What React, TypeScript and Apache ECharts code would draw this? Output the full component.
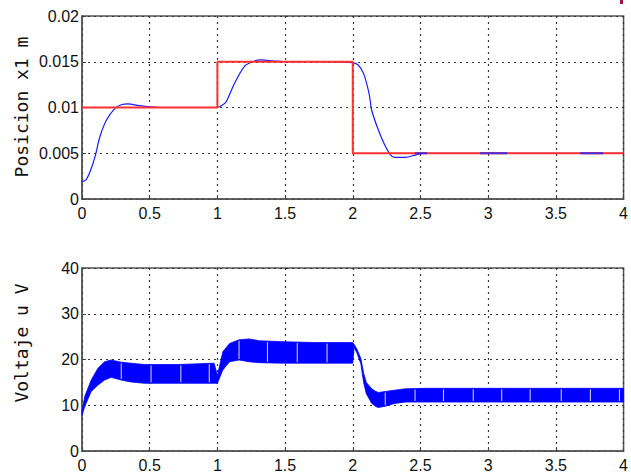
import React, { useEffect, useRef } from "react";
import * as echarts from "echarts";

// ---- Top plot: position (m) ----
const posX = [0, 0.03, 0.06, 0.096, 0.132, 0.18, 0.243, 0.29, 0.34, 0.42, 0.5, 0.58, 0.8, 1.0, 1.03, 1.064, 1.125, 1.2, 1.26, 1.32, 1.42, 1.52, 1.7, 1.995, 2.04, 2.08, 2.12, 2.14, 2.18, 2.23, 2.28, 2.31, 2.39, 2.46, 2.53, 3.0, 4.0];
const posY = [0.0019, 0.0021, 0.003, 0.0046, 0.0068, 0.0086, 0.0099, 0.0103, 0.0104, 0.0102, 0.01008, 0.01, 0.01, 0.01, 0.0102, 0.0106, 0.0126, 0.0145, 0.015, 0.0152, 0.01508, 0.015, 0.015, 0.0149, 0.01465, 0.0137, 0.01155, 0.0097, 0.0079, 0.0061, 0.0048, 0.00456, 0.00456, 0.0048, 0.005, 0.005, 0.005];

// reference step
const refX = [0, 1, 1, 2, 2, 4];
const refY = [0.01, 0.01, 0.015, 0.015, 0.005, 0.005];

// short blue pieces visible over the reference at 0.005
const bluePieces: number[][] = [[2.46, 2.55], [2.94, 3.14], [3.68, 3.85]];
const bluePieceLevel = 0.005;

// ---- Bottom plot: voltage band (V) ----
const vX = [0, 0.02, 0.068, 0.118, 0.167, 0.215, 0.29, 0.36, 0.46, 0.71, 0.976, 1.0, 1.04, 1.09, 1.16, 1.235, 1.31, 1.48, 1.725, 1.97, 2.0, 2.01, 2.03, 2.06, 2.08, 2.1, 2.14, 2.17, 2.19, 2.24, 2.31, 2.39, 2.54, 3.0, 4.0];
const vUpper = [8.6, 11.9, 15.5, 18.1, 19.5, 19.9, 19.4, 19.2, 18.9, 18.9, 19.2, 16.5, 21.7, 23.5, 24.3, 24.5, 24.1, 23.9, 23.7, 23.7, 23.7, 23.3, 22.3, 20.2, 17.0, 15.0, 13.6, 13.0, 12.8, 13.0, 13.3, 13.6, 13.7, 13.7, 13.7];
const vLower = [7.8, 9.7, 13.0, 14.4, 15.5, 16.1, 15.5, 15.1, 14.8, 14.8, 14.8, 14.8, 17.7, 19.5, 19.9, 19.5, 19.3, 19.2, 19.2, 19.2, 19.2, 22.6, 21.5, 19.0, 15.0, 12.5, 10.4, 9.7, 9.5, 9.8, 10.4, 10.7, 10.7, 10.7, 10.7];
const gapX = [0.29, 0.51, 0.73, 0.94, 1.16, 1.37, 1.59, 1.81, 2.24, 2.46, 2.67, 2.89, 3.1, 3.31, 3.54, 3.755, 3.97];

const titleTop = "Posicion x1 m";
const titleBottom = "Voltaje u V";

function interp(xs: number[], ys: number[], x: number) {
  for (let i = 0; i < xs.length - 1; i++) {
    if (x >= xs[i] && x <= xs[i + 1]) {
      const t = xs[i + 1] === xs[i] ? 0 : (x - xs[i]) / (xs[i + 1] - xs[i]);
      return ys[i] + t * (ys[i + 1] - ys[i]);
    }
  }
  return ys[ys.length - 1];
}

const FONT = "Liberation Sans, Arial, sans-serif";
const gridLine = { show: true, lineStyle: { color: "#333", type: [2, 4] as any, width: 1.2 } };
const axisLine = { show: true, lineStyle: { color: "#555", width: 1.5 } };
const axisTick = { show: true, inside: true, length: 4, lineStyle: { color: "#444" } };
const labelStyle = { color: "#111", fontFamily: FONT, fontSize: 16 };

export default function App() {
  const ref = useRef<HTMLDivElement>(null);
  useEffect(() => {
    document.body.style.margin = "0";
    const chart = echarts.init(ref.current!, null, { renderer: "svg" });
    const pairs = (xs: number[], ys: number[]) => xs.map((x, i) => [x, ys[i]]);

    const series: any[] = [
      {
        type: "line",
        xAxisIndex: 0,
        yAxisIndex: 0,
        data: pairs(posX, posY),
        smooth: 0.3,
        showSymbol: false,
        lineStyle: { color: "#1a1aff", width: 1.2 },
        z: 1,
      },
      {
        type: "line",
        xAxisIndex: 0,
        yAxisIndex: 0,
        data: pairs(refX, refY),
        showSymbol: false,
        lineStyle: { color: "#ff3030", width: 2 },
        z: 5,
      },
      ...bluePieces.map((p) => ({
        type: "line",
        xAxisIndex: 0,
        yAxisIndex: 0,
        data: [[p[0], bluePieceLevel], [p[1], bluePieceLevel]],
        showSymbol: false,
        lineStyle: { color: "#4a2ad0", width: 2 },
        z: 6,
      })),
      {
        type: "custom",
        xAxisIndex: 1,
        yAxisIndex: 1,
        data: [[0, 0]],
        encode: { x: 0, y: 1 },
        z: 2,
        renderItem: (_params: any, api: any) => {
          const pts: number[][] = [];
          for (let i = 0; i < vX.length; i++) pts.push(api.coord([vX[i], vUpper[i]]));
          for (let i = vX.length - 1; i >= 0; i--) pts.push(api.coord([vX[i], vLower[i]]));
          const children: any[] = [
            { type: "polygon", shape: { points: pts }, style: { fill: "#0000ff", stroke: "#0000ff", lineWidth: 0.8 } },
          ];
          gapX.forEach((gx) => {
            const a = api.coord([gx, interp(vX, vUpper, gx)]);
            const b = api.coord([gx, interp(vX, vLower, gx)]);
            children.push({
              type: "line",
              shape: { x1: a[0], y1: a[1] + 1, x2: b[0], y2: b[1] - 1 },
              style: { stroke: "#c8c8ff", lineWidth: 1.1 },
            });
          });
          return { type: "group", children };
        },
      },
    ];

    const xAxisBase = {
      type: "value",
      min: 0,
      max: 4,
      interval: 0.5,
      splitLine: gridLine,
      axisLine,
      axisTick,
      axisLabel: { ...labelStyle, margin: 6 },
    };

    chart.setOption({
      animation: false,
      backgroundColor: "#ffffff",
      grid: [
        { left: 82, top: 16, width: 544, height: 183, show: true, borderColor: "#555", borderWidth: 1.5 },
        { left: 82, top: 268, width: 544, height: 183, show: true, borderColor: "#555", borderWidth: 1.5 },
      ],
      xAxis: [
        { ...xAxisBase, gridIndex: 0 },
        { ...xAxisBase, gridIndex: 1 },
      ],
      yAxis: [
        {
          type: "value",
          gridIndex: 0,
          min: 0,
          max: 0.02,
          interval: 0.005,
          splitLine: gridLine,
          axisLine,
          axisTick,
          axisLabel: { ...labelStyle, margin: 3 },
        },
        {
          type: "value",
          gridIndex: 1,
          min: 0,
          max: 40,
          interval: 10,
          splitLine: gridLine,
          axisLine,
          axisTick,
          axisLabel: { ...labelStyle, margin: 3 },
        },
      ],
      graphic: [
        {
          type: "text",
          x: 21,
          y: 107,
          rotation: Math.PI / 2,
          style: {
            text: titleTop,
            fill: "#111",
            font: "18px 'DejaVu Sans Mono', monospace",
            textAlign: "center",
            textVerticalAlign: "middle",
          },
        },
        {
          type: "text",
          x: 21,
          y: 343,
          rotation: Math.PI / 2,
          style: {
            text: titleBottom,
            fill: "#111",
            font: "18px 'DejaVu Sans Mono', monospace",
            textAlign: "center",
            textVerticalAlign: "middle",
          },
        },
        { type: "rect", shape: { x: 620, y: 0, width: 3, height: 4 }, style: { fill: "#a0144a" } },
      ],
      series,
    });
    return () => chart.dispose();
  }, []);
  return <div ref={ref} style={{ width: 631, height: 474 }} />;
}
